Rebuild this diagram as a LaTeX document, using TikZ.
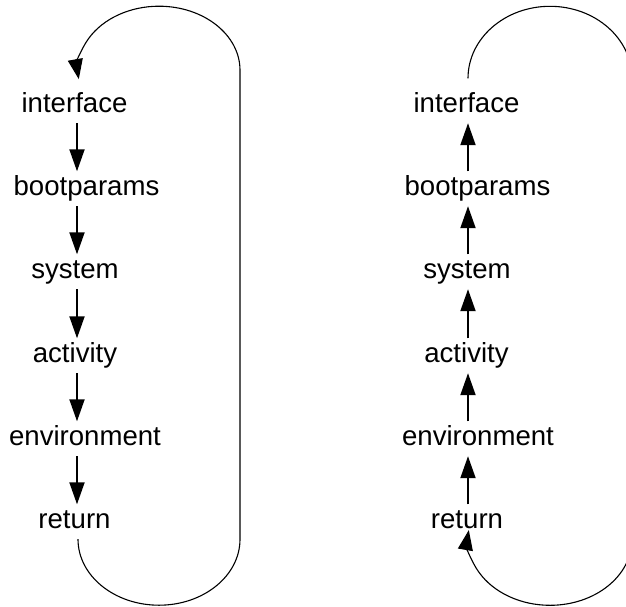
\documentclass[tikz,border=0pt]{standalone}
\usepackage{fontspec}
\setmainfont{Liberation Sans}
\usetikzlibrary{arrows.meta}
\begin{document}
\begin{tikzpicture}[x=1pt,y=-1pt,
  lbl/.style={font=\fontsize{27.6}{32}\selectfont, inner xsep=0pt, inner ysep=4pt,
    text height=19.5pt, text depth=7pt, anchor=base},
  flow/.style={line width=1.9pt, -{Triangle[length=22pt,width=15pt]}},
  loopline/.style={line width=1.1pt, -{Triangle[length=20pt,width=15pt]}}]
\useasboundingbox (0,0) rectangle (626,606);
\coordinate (c1) at (77,0);
\coordinate (c2) at (468,0);
% left column
\node[lbl] (l1) at (74.5,112) {interface};
\node[lbl] (l2) at (86.5,195) {bootparams};
\node[lbl] (l3) at (75,278) {system};
\node[lbl] (l4) at (75,362) {activity};
\node[lbl] (l5) at (85,445) {environment};
\node[lbl] (l6) at (74.5,528) {return};
% right column
\node[lbl] (r1) at (466.5,112) {interface};
\node[lbl] (r2) at (477.5,195) {bootparams};
\node[lbl] (r3) at (467,278) {system};
\node[lbl] (r4) at (466.5,362) {activity};
\node[lbl] (r5) at (478,445) {environment};
\node[lbl] (r6) at (467,528) {return};
% left arrows (downward)
\draw[flow] (l1.south -| c1) -- (l2.north -| c1);
\draw[flow] (l2.south -| c1) -- (l3.north -| c1);
\draw[flow] (l3.south -| c1) -- (l4.north -| c1);
\draw[flow] (l4.south -| c1) -- (l5.north -| c1);
\draw[flow] (l5.south -| c1) -- (l6.north -| c1);
% right arrows (upward)
\draw[flow] (r2.north -| c2) -- (r1.south -| c2);
\draw[flow] (r3.north -| c2) -- (r2.south -| c2);
\draw[flow] (r4.north -| c2) -- (r3.south -| c2);
\draw[flow] (r5.north -| c2) -- (r4.south -| c2);
\draw[flow] (r6.north -| c2) -- (r5.south -| c2);
% left loop: return -> interface
\draw[loopline] (l6.south -| c1) ++(1,0)
  arc[start angle=180, end angle=0, x radius=81, y radius=66]
  -- ++(0,-469)
  arc[start angle=0, end angle=-188, x radius=81, y radius=64];
% right loop: interface -> return
\draw[loopline] ([yshift=10pt]r1.north -| c2)
  arc[start angle=180, end angle=360, x radius=82, y radius=72]
  -- ++(0,461)
  arc[start angle=0, end angle=188, x radius=82, y radius=66];
\end{tikzpicture}
\end{document}
